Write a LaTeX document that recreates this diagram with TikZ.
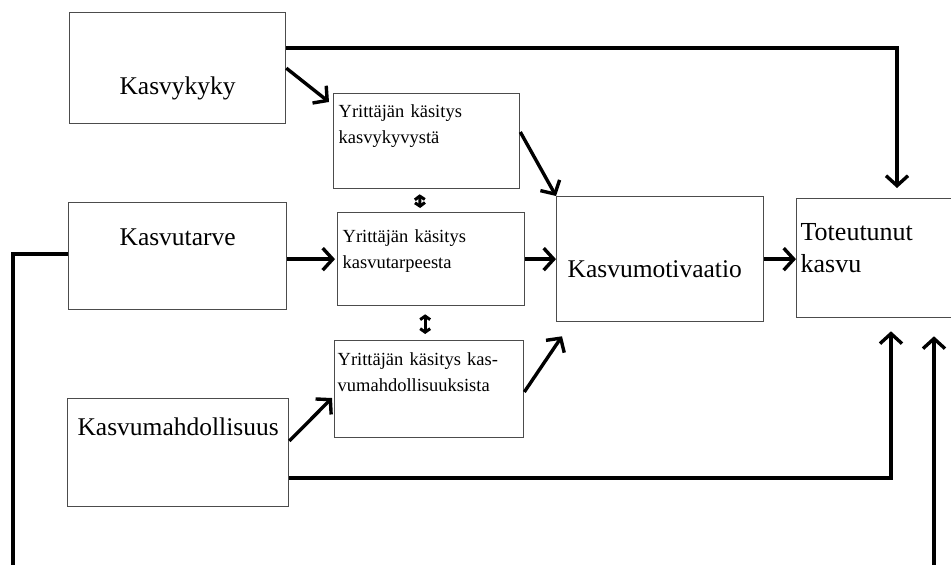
\documentclass[tikz,border=0pt]{standalone}
\usepackage{fontspec}
\setmainfont{Liberation Serif}
\usetikzlibrary{arrows.meta,calc}
\tikzset{
	box/.style={draw=black!70, line width=1.3pt, anchor=north west, inner ysep=0pt, align=left},
	big/.style={font=\fontsize{25.5}{32}\selectfont},
	small/.style={font=\fontsize{18.5}{26}\selectfont},
	conn/.style={line width=3.4pt, -{Straight Barb[length=10pt,width=22pt]}},
	dbl/.style={line width=3pt, {Straight Barb[length=3.5pt,width=10pt]}-{Straight Barb[length=3.5pt,width=10pt]}}
}

\begin{document}
\begin{tikzpicture}[x=1pt, y=-1pt]
		%%%%% FRAME %%%%%
		\useasboundingbox (0,0) rectangle (951,565);
		\clip (0,0) rectangle (951,565);
		
		%%%%% BOXES %%%%%
		\node[box, big, inner xsep=0pt, minimum width=216pt, text height=82pt, text depth=29pt] (kyky) at (69,12) {Kasvykyky};
		\node[box, big, inner xsep=0pt, minimum width=218pt, text height=43pt, text depth=64pt] (tarve) at (68,202) {Kasvutarve};
		\node[box, big, inner xsep=0pt, minimum width=221pt, text height=37pt, text depth=71pt] (mahd) at (67,398) {Kasvumahdollisuus};
		
		\node[box, small, inner xsep=5pt, text width=176pt, text height=24pt, text depth=71pt] (ksKyky) at (333,93) {Yrittäjän käsitys\\kasvykyvystä};
		\node[box, small, inner xsep=5pt, text width=177pt, text height=30pt, text depth=63pt] (ksTarve) at (337,212) {Yrittäjän käsitys\\kasvutarpeesta};
		\node[box, small, inner xsep=3pt, text width=183pt, text height=25pt, text depth=72pt] (ksMahd) at (334,340) {Yrittäjän käsitys kas-\\vumahdollisuuksista};
		
		\node[box, big, inner xsep=11pt, text width=185pt, text height=81pt, text depth=44pt] (motiv) at (556,196) {Kasvumotivaatio};
		\node[box, font=\fontsize{26}{32}\selectfont, inner xsep=4pt, text width=192pt, text height=42pt, text depth=77pt] (tot) at (796,198) {Toteutunut\\kasvu};
		
		\coordinate (botL) at (13,567);
		\coordinate (botR) at (934,567);
		
		%%%%% ARROWS %%%%%
		\draw[conn] ($(kyky.north east)+(0,36)$) -| ($(tot.north west)+(101,-10)$);
		\draw[conn] (kyky.east) -- ($(ksKyky.north west)+(-4,9)$);
		\draw[conn] ($(ksKyky.north east)+(0,39)$) -- (motiv.north west);
		
		\draw[conn] (tarve.east |- ksTarve.west) -- ($(ksTarve.west)+(-2,0)$);
		\draw[conn] (ksTarve.east) -- (motiv.west);
		
		\draw[conn] ($(mahd.north east)+(0,43)$) -- ($(ksMahd.north west)+(-2,58)$);
		\draw[conn] ($(ksMahd.north east)+(0,52)$) -- ($(motiv.south west)+(6,14)$);
		
		\draw[conn] (motiv.east) -- (tot.west |- motiv.east);
		\draw[conn] ($(mahd.north east)+(0,80)$) -| ($(tot.south west)+(95,13)$);
		\draw[line width=3.4pt] ($(tarve.north west)+(0,52)$) -| (botL);
		\draw[conn] (botR) -- ($(tot.south west)+(138,18)$);
		
		\draw[dbl] ($(ksKyky.south)+(-7,5)$) -- ($(ksTarve.north)+(-11,-4)$);
		\draw[dbl] ($(ksTarve.south)+(-6,8)$) -- ($(ksMahd.north)+(-4,-6)$);
\end{tikzpicture}
\end{document}
